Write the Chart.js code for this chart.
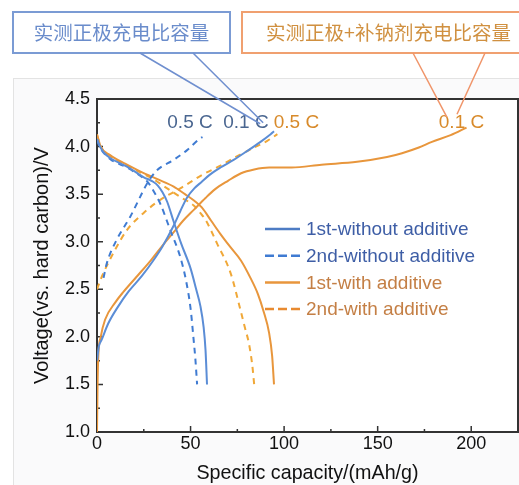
<!DOCTYPE html>
<html>
<head>
<meta charset="utf-8">
<script src="https://cdn.jsdelivr.net/npm/chart.js@4.4.1/dist/chart.umd.min.js"></script>
<style>
  html, body { margin: 0; padding: 0; background: #fff; }
  #wrap { width: 519px; height: 485px; }
</style>
</head>
<body>
<div id="wrap"><canvas id="chart" width="519" height="485"></canvas></div>
<script>
// capacity (mAh/g) / voltage (V)
const cap1ChgWithout = [0, 1, 2.5, 6, 11, 17, 24, 30, 35, 41, 44.5, 48, 52, 56, 60, 66, 73, 80, 87.4, 92.8, 94.6];
const volt1ChgWithout = [1.75, 1.9, 1.97, 2.14, 2.31, 2.48, 2.64, 2.8, 2.95, 3.17, 3.32, 3.46, 3.56, 3.63, 3.7, 3.78, 3.86, 3.95, 4.05, 4.13, 4.16];
const cap1DisWithout = [0, 1.6, 4, 7, 16, 24.8, 30, 32.5, 35, 37.5, 41, 45, 50, 53, 55.3, 57, 58, 58.8];
const volt1DisWithout = [4.08, 4.0, 3.93, 3.88, 3.79, 3.68, 3.63, 3.59, 3.52, 3.42, 3.21, 2.98, 2.72, 2.5, 2.32, 2.1, 1.86, 1.5];

const cap2ChgWithout = [3.5, 5.2, 10.5, 17.7, 24.8, 26.7, 32, 41, 48, 55.3, 56.4];
const volt2ChgWithout = [2.62, 2.77, 3.02, 3.26, 3.54, 3.61, 3.75, 3.86, 3.96, 4.09, 4.1];
const cap2DisWithout = [0, 1.6, 7, 16, 24, 27, 30, 33.8, 39.2, 44.5, 47.5, 50, 51.5, 52.6, 53.5];
const volt2DisWithout = [4.07, 3.99, 3.87, 3.78, 3.68, 3.63, 3.54, 3.4, 3.12, 2.84, 2.6, 2.3, 2.0, 1.76, 1.5];

const cap1ChgWith = [0, 0.3, 0.7, 2, 4.3, 9.7, 14, 22, 29, 35, 41, 46, 52, 58, 63, 70, 77, 84, 92, 104, 120, 139, 155, 163, 172, 179, 189, 197.5];
const volt1ChgWith = [1.0, 1.5, 1.8, 2.0, 2.18, 2.36, 2.47, 2.65, 2.81, 2.96, 3.1, 3.22, 3.34, 3.46, 3.55, 3.64, 3.72, 3.76, 3.78, 3.78, 3.81, 3.84, 3.89, 3.93, 3.99, 4.05, 4.12, 4.2];
const cap1DisWith = [0, 2, 7, 15, 23, 32, 41, 47, 52, 56, 61, 66, 71, 77, 82, 86, 89, 92, 93.6, 94.6];
const volt1DisWith = [4.13, 4.0, 3.91, 3.82, 3.74, 3.66, 3.58, 3.5, 3.43, 3.36, 3.22, 3.08, 2.95, 2.8, 2.62, 2.45, 2.27, 2.04, 1.8, 1.5];

const cap2ChgWith = [0, 1.5, 3.4, 8.7, 15.9, 24.8, 33.8, 44.5, 56, 66, 75, 84, 91, 96.4];
const volt2ChgWith = [2.5, 2.58, 2.67, 2.88, 3.12, 3.3, 3.44, 3.56, 3.7, 3.8, 3.9, 3.99, 4.06, 4.13];
const cap2DisWith = [0, 2, 7, 15, 23, 30, 36, 44.5, 51.7, 55.3, 58, 64.2, 71.4, 76.7, 79, 81.2, 83, 84];
const volt2DisWith = [4.12, 4.0, 3.9, 3.81, 3.73, 3.66, 3.58, 3.47, 3.38, 3.3, 3.23, 2.98, 2.67, 2.28, 2.1, 1.93, 1.7, 1.5];

const legendLabels = ['1st-without additive', '2nd-without additive', '1st-with additive', '2nd-with additive'];
const rateLabels = ['0.5 C', '0.1 C', '0.5 C', '0.1 C'];
const calloutTexts = ['实测正极充电比容量', '实测正极+补钠剂充电比容量'];
const xTickValues = [0, 50, 100, 150, 200];
const yTickValues = [1.0, 1.5, 2.0, 2.5, 3.0, 3.5, 4.0, 4.5];

const FONT = '"Liberation Sans", Arial, sans-serif';
const BLUE = '#5b8dd6';
const BLUE_DASH = '#3f7bd2';
const ORANGE = '#e8963c';
const ORANGE_DASH = '#f0a838';
const DASH = [6, 5];

const zip = (xs, ys) => xs.map((x, i) => [x, ys[i]]);

function curve(xs, ys, color, dashed) {
    return {
        data: zip(xs, ys),
        borderColor: color,
        borderWidth: 2,
        borderDash: dashed ? DASH : [],
        pointRadius: 0,
        fill: false,
        cubicInterpolationMode: 'monotone'
    };
}

// legend styles (one per legendLabels entry)
const legendStyle = [
    { line: '#4d7cc4', text: '#3e5ea6', dash: [] },
    { line: '#3f7bd2', text: '#3e5ea6', dash: [9, 4] },
    { line: '#e8963c', text: '#c47f45', dash: [] },
    { line: '#e88a30', text: '#c47f45', dash: [9, 4] }
];

const decor = {
    id: 'decor',
    beforeDraw(chart) {
        const { ctx, chartArea: a } = chart;
        ctx.save();
        ctx.fillStyle = '#fff';
        ctx.fillRect(0, 0, chart.width, chart.height);
        ctx.fillStyle = '#fafafb';
        ctx.strokeStyle = '#e3e3e3';
        ctx.lineWidth = 1;
        ctx.fillRect(13.5, 78.5, 520, 420);
        ctx.strokeRect(13.5, 78.5, 520, 420);
        ctx.fillStyle = '#fff';
        ctx.fillRect(a.left, a.top, a.right - a.left, a.bottom - a.top);
        ctx.restore();
    },
    beforeDatasetsDraw(chart, args, opts) {
        const { ctx, chartArea: a, scales: { x, y } } = chart;
        ctx.save();
        ctx.strokeStyle = '#333';
        ctx.lineWidth = 2;
        ctx.strokeRect(a.left, a.top, a.right - a.left, a.bottom - a.top);
        // ticks pointing inward, with minor ones in between
        ctx.lineWidth = 1.5;
        ctx.beginPath();
        for (let v = 0; v <= 200; v += 25) {
            const px = x.getPixelForValue(v);
            const len = v % 50 === 0 ? 6 : 3;
            ctx.moveTo(px, a.bottom);
            ctx.lineTo(px, a.bottom - len);
        }
        for (let v = 1.0; v <= 4.5; v += 0.25) {
            const py = y.getPixelForValue(v);
            const len = Math.abs(v * 2 - Math.round(v * 2)) < 1e-6 ? 6 : 3;
            ctx.moveTo(a.left, py);
            ctx.lineTo(a.left + len, py);
        }
        ctx.stroke();

        // rate labels, placed in data coordinates (under the curves)
        ctx.font = '19px ' + FONT;
        ctx.textAlign = 'center';
        ctx.textBaseline = 'middle';
        opts.rates.forEach((r, i) => {
            const px = x.getPixelForValue(r.x);
            const py = y.getPixelForValue(r.y);
            const w = ctx.measureText(rateLabels[i]).width;
            ctx.fillStyle = '#fff';
            ctx.fillRect(px - w / 2 - 3, py - 11, w + 6, 22);
            ctx.fillStyle = r.color;
            ctx.fillText(rateLabels[i], px, py + 1);
        });
        ctx.restore();
    },
    afterDatasetsDraw(chart) {
        const { ctx } = chart;
        ctx.save();
        // legend
        ctx.font = '19px ' + FONT;
        ctx.textBaseline = 'middle';
        ctx.textAlign = 'left';
        legendLabels.forEach((lab, i) => {
            const st = legendStyle[i];
            const ly = 229 + i * 26.7;
            ctx.strokeStyle = st.line;
            ctx.lineWidth = 2.5;
            ctx.setLineDash(st.dash);
            ctx.beginPath();
            ctx.moveTo(265, ly);
            ctx.lineTo(300, ly);
            ctx.stroke();
            ctx.setLineDash([]);
            ctx.fillStyle = st.text;
            ctx.fillText(lab, 306, ly + 1);
        });
        ctx.restore();
    },
    afterDraw(chart, args, opts) {
        const { ctx, scales: { x, y } } = chart;
        ctx.save();
        // callout boxes above the plot
        opts.boxes.forEach((b, i) => {
            ctx.fillStyle = '#fff';
            ctx.fillRect(b.x, b.y, b.w, b.h);
            ctx.strokeStyle = b.border;
            ctx.lineWidth = 2;
            ctx.strokeRect(b.x, b.y, b.w, b.h);
            ctx.font = '19.5px "Noto Sans CJK SC", ' + FONT;
            ctx.fillStyle = b.color;
            ctx.textAlign = 'center';
            ctx.textBaseline = 'middle';
            ctx.fillText(calloutTexts[i], b.tx, b.y + b.h / 2);
            // leader lines to the rate labels
            ctx.strokeStyle = b.leader;
            ctx.lineWidth = 1.5;
            ctx.beginPath();
            b.leaders.forEach(l => {
                ctx.moveTo(l.from, b.y + b.h);
                ctx.lineTo(x.getPixelForValue(l.x), y.getPixelForValue(l.y));
            });
            ctx.stroke();
        });
        ctx.restore();
    }
};

new Chart(document.getElementById('chart'), {
    type: 'line',
    data: {
        datasets: [
            curve(cap1ChgWithout, volt1ChgWithout, BLUE, false),
            curve(cap1DisWithout, volt1DisWithout, BLUE, false),
            curve(cap2ChgWithout, volt2ChgWithout, BLUE_DASH, true),
            curve(cap2DisWithout, volt2DisWithout, BLUE_DASH, true),
            curve(cap1ChgWith, volt1ChgWith, ORANGE, false),
            curve(cap1DisWith, volt1DisWith, ORANGE, false),
            curve(cap2ChgWith, volt2ChgWith, ORANGE_DASH, true),
            curve(cap2DisWith, volt2DisWith, ORANGE_DASH, true)
        ]
    },
    options: {
        responsive: false,
        animation: false,
        layout: { padding: { top: 99, right: 1, left: 0, bottom: 0 } },
        plugins: {
            legend: { display: false },
            tooltip: { enabled: false },
            decor: {
                rates: [
                    { x: 49.7, y: 4.26, color: '#4a6690' },
                    { x: 79.6, y: 4.26, color: '#4a6690' },
                    { x: 106.6, y: 4.26, color: '#d88a2a' },
                    { x: 194.8, y: 4.26, color: '#d88a2a' }
                ],
                boxes: [
                    { x: 13, y: 12, w: 217, h: 41, tx: 121.5, border: '#7b9bd4', color: '#6a8ccb', leader: '#6f8fcf',
                      leaders: [{ from: 140, x: 87.2, y: 4.24 }, { from: 193, x: 88.8, y: 4.25 }] },
                    { x: 242, y: 12, w: 290, h: 41, tx: 388.5, border: '#f0a070', color: '#d09040', leader: '#f0956a',
                      leaders: [{ from: 413, x: 187, y: 4.31 }, { from: 485, x: 192.4, y: 4.34 }] }
                ]
            }
        },
        scales: {
            x: {
                type: 'linear',
                min: 0,
                max: 225,
                afterFit: s => { s.height = 53; },
                afterBuildTicks: s => { s.ticks = xTickValues.map(v => ({ value: v })); },
                grid: { display: false, drawTicks: false },
                border: { display: false },
                ticks: { padding: 1, color: '#111', font: { size: 18, family: FONT } },
                title: {
                    display: true,
                    text: 'Specific capacity/(mAh/g)',
                    color: '#111',
                    padding: { top: 0, bottom: 0 },
                    font: { size: 19.7, family: FONT }
                }
            },
            y: {
                type: 'linear',
                min: 1.0,
                max: 4.5,
                afterFit: s => { s.width = 97; },
                afterBuildTicks: s => { s.ticks = yTickValues.map(v => ({ value: v })); },
                grid: { display: false, drawTicks: false },
                border: { display: false },
                ticks: {
                    padding: 7,
                    color: '#111',
                    font: { size: 18, family: FONT },
                    callback: v => v.toFixed(1)
                },
                title: {
                    display: true,
                    text: 'Voltage(vs. hard carbon)/V',
                    color: '#111',
                    padding: { top: 30, bottom: 0 },
                    font: { size: 20, family: FONT }
                }
            }
        }
    },
    plugins: [decor]
});
</script>
</body>
</html>
